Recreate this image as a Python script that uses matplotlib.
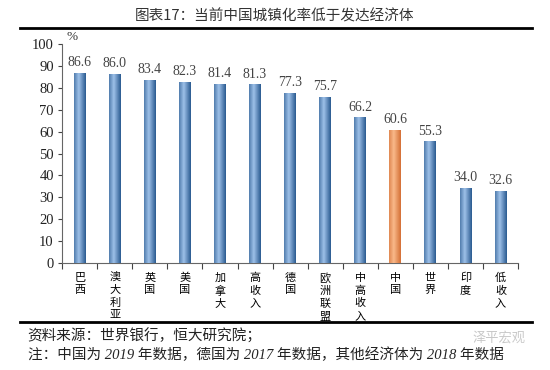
import numpy as np
import matplotlib.pyplot as plt
from matplotlib.lines import Line2D
from matplotlib.colors import LinearSegmentedColormap

plt.rcParams['font.family'] = ['Liberation Serif', 'Noto Sans CJK SC']

# data
countries = ['巴西', '澳大利亚', '英国', '美国', '加拿大', '高收入', '德国',
             '欧洲联盟', '中高收入', '中国', '世界', '印度', '低收入']
urban_rate = [86.6, 86.0, 83.4, 82.3, 81.4, 81.3, 77.3, 75.7, 66.2, 60.6, 55.3, 34.0, 32.6]
yticks = [0, 10, 20, 30, 40, 50, 60, 70, 80, 90, 100]

fig = plt.figure(figsize=(5.5, 3.7), dpi=100)
ax = fig.add_axes([0.113, 0.289, 0.829, 0.592])

x = np.arange(len(countries))
colors = ['#4F81BD'] * len(countries)
colors[countries.index('中国')] = '#F79646'
bars = ax.bar(x, urban_rate, width=0.34, color=colors, edgecolor='none', zorder=2)

# cylinder-ish shading on each bar
grad = np.linspace(0, 1, 64)
shade = 1 - np.abs(grad - 0.4) / 0.6
blue_map = LinearSegmentedColormap.from_list('b', ['#2A5A90', '#9DC0E8'])
orange_map = LinearSegmentedColormap.from_list('o', ['#D46F35', '#F9B98A'])
for b, c in zip(bars, colors):
    cmap = blue_map if c == '#4F81BD' else orange_map
    x0, w, h = b.get_x(), b.get_width(), b.get_height()
    ax.imshow(shade[np.newaxis, :], cmap=cmap, aspect='auto',
              extent=[x0, x0 + w, 0, h], zorder=3, vmin=0, vmax=1)
    ax.text(x0 + w / 2, h + 2, f'{h:.1f}', ha='center', va='bottom',
            fontsize=10, color='#444444')

ax.set_xlim(-0.5, len(countries) - 0.5)
ax.set_ylim(0, 100)
ax.set_yticks(yticks)
ax.tick_params(axis='y', labelsize=10.5, length=3, direction='out', pad=3)
ax.set_xticks(np.arange(-0.5, len(countries)), minor=False)
ax.set_xticklabels([])
ax.set_xticks(x, minor=True)
ax.set_xticklabels(['\n'.join(c) for c in countries], minor=True,
                   fontsize=8, family=['Noto Sans CJK SC'], va='top', linespacing=1.3)
ax.tick_params(axis='x', which='major', length=4, direction='out')
ax.tick_params(axis='x', which='minor', length=0, pad=7)
for s in ['top', 'right']:
    ax.spines[s].set_visible(False)
for s in ['left', 'bottom']:
    ax.spines[s].set_color('#666666')
ax.tick_params(colors='#444444')
ax.tick_params(axis='y', labelcolor='#222222')

ax.text(0.01, 1.005, '%', transform=ax.transAxes, fontsize=9.5, ha='left', va='bottom', color='#333333')

# title and frame lines
fig.text(0.5, 0.955, '图表17：当前中国城镇化率低于发达经济体', ha='center', va='center',
         fontsize=10.5, family=['Noto Sans CJK SC'], color='#333333')
fig.add_artist(Line2D([0.037, 0.968], [0.924, 0.924], color='black', lw=2))
fig.add_artist(Line2D([0.037, 0.968], [0.13, 0.13], color='black', lw=2))

fig.text(0.05, 0.092, '资料来源：世界银行，恒大研究院；', ha='left', va='center', fontsize=10.5,
         family=['Noto Sans CJK SC'], color='#222222')
fig.text(0.05, 0.042, '注：中国为 2019 年数据，德国为 2017 年数据，其他经济体为 2018 年数据', ha='left',
         va='center', fontsize=10.5, family=['Liberation Serif', 'Noto Sans CJK SC'],
         style='italic', color='#222222')
fig.text(0.955, 0.085, '泽平宏观', ha='right', va='center', fontsize=9.5,
         family=['Noto Sans CJK SC'], color='#BBBBBB', alpha=0.8)

fig.savefig('out.png', dpi=100)
